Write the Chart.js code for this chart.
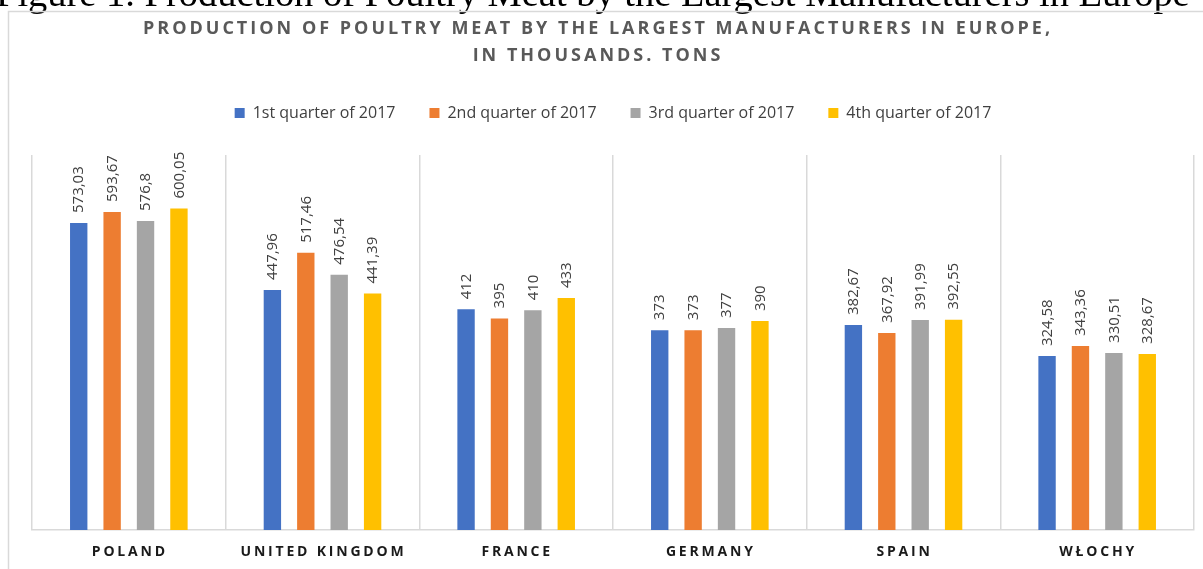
<!DOCTYPE html>
<html>
<head>
<meta charset="utf-8">
<script src="https://cdn.jsdelivr.net/npm/chart.js@4.4.1/dist/chart.umd.min.js"></script>
<style>
    html, body { margin: 0; padding: 0; background: #fff; }
    #wrap { width: 1203px; height: 569px; position: relative; overflow: hidden; }
</style>
</head>
<body>
<div id="wrap"><canvas id="chart" width="1203" height="569"></canvas></div>
<script>
// data
const categories = ['POLAND', 'UNITED KINGDOM', 'FRANCE', 'GERMANY', 'SPAIN', 'WŁOCHY'];
const seriesNames = ['1st quarter of 2017', '2nd quarter of 2017', '3rd quarter of 2017', '4th quarter of 2017'];
const q1 = [573.03, 447.96, 412, 373, 382.67, 324.58];
const q2 = [593.67, 517.46, 395, 373, 367.92, 343.36];
const q3 = [576.8, 476.54, 410, 377, 391.99, 330.51];
const q4 = [600.05, 441.39, 433, 390, 392.55, 328.67];
const seriesColors = ['#4472C4', '#ED7D31', '#A5A5A5', '#FFC000'];
const titleLines = ['PRODUCTION OF POULTRY MEAT BY THE LARGEST MANUFACTURERS IN EUROPE,', 'IN THOUSANDS. TONS'];
const captionText = 'Figure 1. Production of Poultry Meat by the Largest Manufacturers in Europe';

const fmt = v => String(v).replace('.', ',');

// Custom drawing: caption, frame, title, value labels, category labels
const decorPlugin = {
    id: 'decor',
    afterDraw(chart) {
        const ctx = chart.ctx;
        const x = chart.scales.x;

        ctx.save();
        // caption cut off at top of the picture
        ctx.font = '32px "Liberation Serif"';
        const w = ctx.measureText(captionText).width;
        const size = 32 * 1194 / w;
        ctx.font = size + 'px "Liberation Serif"';
        ctx.fillStyle = '#000';
        ctx.textBaseline = 'alphabetic';
        ctx.textAlign = 'left';
        ctx.fillText(captionText, -4, 6);

        // frame of the chart object
        ctx.strokeStyle = '#d9d9d9';
        ctx.lineWidth = 1.5;
        ctx.beginPath();
        ctx.moveTo(8.5, 600);
        ctx.lineTo(8.5, 11.5);
        ctx.lineTo(1220, 11.5);
        ctx.stroke();

        // title
        ctx.fillStyle = '#595959';
        ctx.font = 'bold 18px "Open Sans"';
        ctx.letterSpacing = '3px';
        ctx.textAlign = 'center';
        ctx.textBaseline = 'middle';
        ctx.fillText(titleLines[0], 598, 29);
        ctx.fillText(titleLines[1], 598, 56);

        // category labels
        ctx.fillStyle = '#1a1a1a';
        ctx.font = 'bold 14px "Open Sans"';
        ctx.letterSpacing = '2.8px';
        categories.forEach((c, i) => {
            ctx.fillText(c, x.getPixelForValue(i) + 1, 552);
        });

        // value labels, rotated
        ctx.letterSpacing = '0px';
        ctx.fillStyle = '#404040';
        ctx.font = '15px "Open Sans"';
        ctx.textAlign = 'left';
        ctx.textBaseline = 'middle';
        chart.data.datasets.forEach((ds, di) => {
            const meta = chart.getDatasetMeta(di);
            meta.data.forEach((bar, i) => {
                ctx.save();
                ctx.translate(bar.x + 0.5, bar.y - 10);
                ctx.rotate(-Math.PI / 2);
                ctx.fillText(fmt(ds.data[i]), 0, 0);
                ctx.restore();
            });
        });
        ctx.restore();
    }
};

const seriesData = [q1, q2, q3, q4];

new Chart(document.getElementById('chart'), {
    type: 'bar',
    data: {
        labels: categories,
        datasets: seriesNames.map((name, i) => ({
            label: name,
            data: seriesData[i],
            backgroundColor: seriesColors[i],
            borderWidth: 0,
            categoryPercentage: 0.69,
            barPercentage: 0.52
        }))
    },
    options: {
        responsive: false,
        devicePixelRatio: 1,
        animation: false,
        layout: { padding: { top: 71, left: 32, right: 9, bottom: 39 } },
        plugins: {
            title: { display: false },
            tooltip: { enabled: false },
            legend: {
                position: 'top',
                labels: {
                    boxWidth: 10,
                    boxHeight: 10,
                    padding: 34,
                    color: '#404040',
                    font: { family: 'Open Sans', size: 16 }
                }
            }
        },
        scales: {
            x: {
                grid: { color: '#d9d9d9', lineWidth: 1.5, offset: true, drawTicks: false },
                border: { color: '#d9d9d9', width: 1.5 },
                ticks: { display: false }
            },
            // empty axis used only as a gap between legend and plot
            xTop: {
                type: 'category',
                position: 'top',
                grid: { display: false, drawTicks: false },
                border: { display: false },
                ticks: { display: false },
                afterFit: s => { s.height = 24; }
            },
            y: {
                display: false,
                min: 0,
                max: 700
            }
        }
    },
    plugins: [decorPlugin]
});
</script>
</body>
</html>
